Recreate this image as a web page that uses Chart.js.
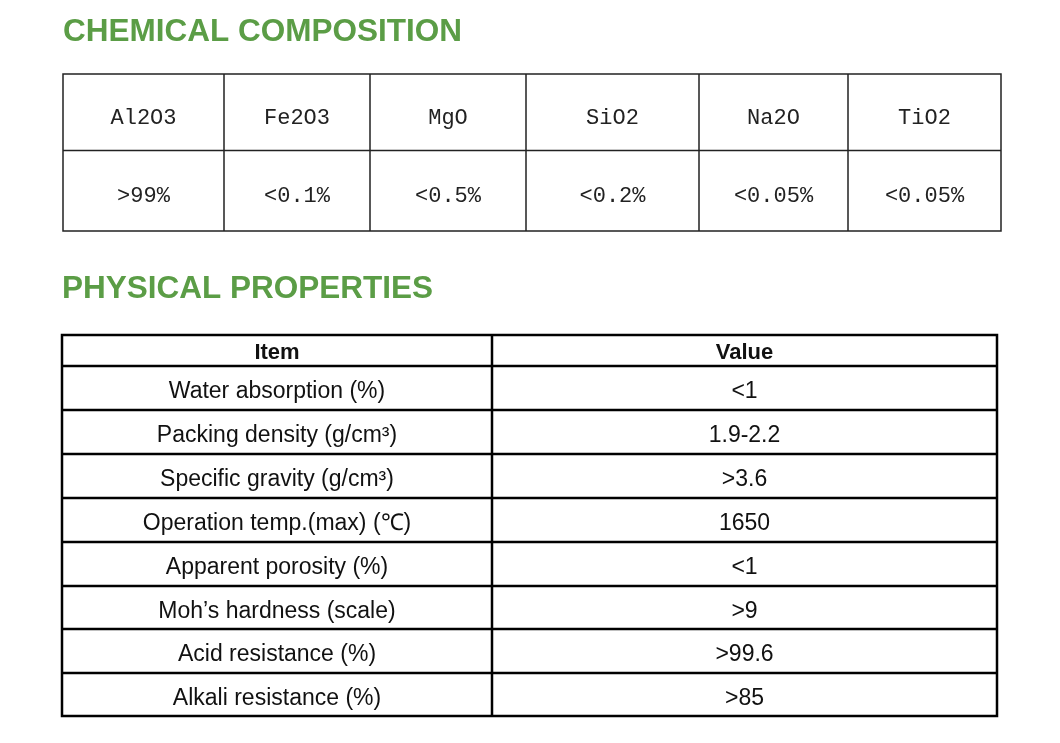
<!DOCTYPE html>
<html lang="en">
<head>
    <meta charset="UTF-8">
    <meta name="viewport" content="width=device-width, initial-scale=1.0">
    <title>Chemical composition and physical properties</title>
    <style>
        html, body { margin: 0; padding: 0; background: #fff; }
        canvas { display: block; }
    </style>
</head>
<body>
<div>
  <canvas id="myChart" width="1060" height="743"></canvas>
</div>
<script src="https://cdn.jsdelivr.net/npm/chart.js"></script>

<script>
    // table contents
    const chemTitle = 'CHEMICAL COMPOSITION';
    const chemNames = ['Al2O3', 'Fe2O3', 'MgO', 'SiO2', 'Na2O', 'TiO2'];
    const chemValues = ['>99%', '<0.1%', '<0.5%', '<0.2%', '<0.05%', '<0.05%'];

    const propTitle = 'PHYSICAL PROPERTIES';
    const propHeaders = ['Item', 'Value'];
    const propItems = [
        'Water absorption (%)',
        'Packing density (g/cm³)',
        'Specific gravity (g/cm³)',
        'Operation temp.(max) (℃)',
        'Apparent porosity (%)',
        'Moh’s hardness (scale)',
        'Acid resistance (%)',
        'Alkali resistance (%)'
    ];
    const propValues = ['<1', '1.9-2.2', '>3.6', '1650', '<1', '>9', '>99.6', '>85'];

    // layout in scale units (scales run 0..1060 and 0..743)
    const chemCols = [63, 224, 370, 526, 699, 848, 1001];
    const chemRows = [74, 150.5, 231];
    const propCols = [62, 492, 997];
    const propRows = [335, 366, 410, 454, 498, 542, 586, 629, 673, 716];

    const green = '#5b9d46';

    function grid(ctx, px, py, cols, rows, width, color) {
        ctx.save();
        ctx.strokeStyle = color;
        ctx.lineWidth = width;
        ctx.beginPath();
        rows.forEach(r => {
            ctx.moveTo(px(cols[0]) - width / 2, py(r));
            ctx.lineTo(px(cols[cols.length - 1]) + width / 2, py(r));
        });
        cols.forEach(c => {
            ctx.moveTo(px(c), py(rows[0]));
            ctx.lineTo(px(c), py(rows[rows.length - 1]));
        });
        ctx.stroke();
        ctx.restore();
    }

    const tablePlugin = {
        id: 'specTables',
        afterDraw(chart) {
            const ctx = chart.ctx;
            const x = chart.scales.x, y = chart.scales.y;
            const px = v => x.getPixelForValue(v);
            const py = v => y.getPixelForValue(v);
            const mid = (a, i) => (a[i] + a[i + 1]) / 2;

            ctx.save();
            // titles
            ctx.fillStyle = green;
            ctx.font = 'bold 31.5px "Liberation Sans", Arial, sans-serif';
            ctx.textAlign = 'left';
            ctx.textBaseline = 'alphabetic';
            ctx.fillText(chemTitle, px(63), py(41));
            ctx.fillText(propTitle, px(62), py(298));

            // chemical composition table
            grid(ctx, px, py, chemCols, chemRows, 1.5, '#222');
            ctx.fillStyle = '#222';
            ctx.font = '22px "Liberation Mono", "DejaVu Sans Mono", monospace';
            ctx.textAlign = 'center';
            chemNames.forEach((n, i) => {
                ctx.fillText(n, px(mid(chemCols, i)), py(mid(chemRows, 0) + 12));
                ctx.fillText(chemValues[i], px(mid(chemCols, i)), py(mid(chemRows, 1) + 11));
            });

            // physical properties table
            grid(ctx, px, py, propCols, propRows, 2.5, '#000');
            ctx.fillStyle = '#111';
            ctx.font = 'bold 22px "Liberation Sans", Arial, sans-serif';
            propHeaders.forEach((h, i) => {
                ctx.fillText(h, px(mid(propCols, i)), py(mid(propRows, 0) + 8));
            });
            ctx.font = '23px "Liberation Sans", Arial, sans-serif';
            propItems.forEach((it, r) => {
                ctx.fillText(it, px(mid(propCols, 0)), py(mid(propRows, r + 1) + 10));
                ctx.fillText(propValues[r], px(mid(propCols, 1)), py(mid(propRows, r + 1) + 10));
            });
            ctx.restore();
        }
    };

    const ctx = document.getElementById('myChart');
    new Chart(ctx, {
        type: 'scatter',
        data: { datasets: [] },
        options: {
            responsive: false,
            animation: false,
            devicePixelRatio: 1,
            layout: { padding: 0 },
            plugins: { legend: { display: false }, tooltip: { enabled: false } },
            scales: {
                x: { type: 'linear', min: 0, max: 1060, display: false },
                y: { type: 'linear', min: 0, max: 743, reverse: true, display: false }
            }
        },
        plugins: [tablePlugin]
    });
</script>

</body>
</html>
